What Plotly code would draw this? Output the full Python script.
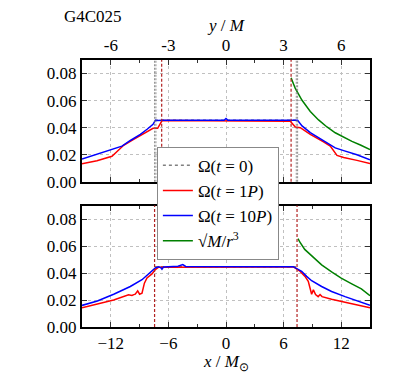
import plotly.graph_objects as go

# top panel, horizontal coordinate y/M
top_pos_red = [-7.5, -6.72, -5.94, -5.68, -5.33, -4.81, -4.29, -3.8, -3.56, -3.33,
               3.35, 3.61, 3.87, 4.39, 5.08, 5.43, 5.78, 6.13, 6.82, 7.5]
top_omega_red = [0.0133, 0.0155, 0.0188, 0.0225, 0.027, 0.0313, 0.0355, 0.0395, 0.0395, 0.0452,
                 0.0448, 0.0405, 0.040, 0.035, 0.0295, 0.0263, 0.0195, 0.018, 0.0158, 0.0135]

top_pos_blue = [-7.5, -6.72, -6.03, -5.42, -4.98, -4.46, -4.11, -3.8, -3.68, -3.55, -3.3,
                -0.1, 0.0, 0.1, 3.73, 3.96, 4.39, 5.08, 5.43, 5.69, 6.13, 6.82, 7.5]
top_omega_blue = [0.0168, 0.0205, 0.0238, 0.0263, 0.0305, 0.035, 0.0388, 0.0425, 0.0455, 0.0452, 0.0455,
                  0.0455, 0.0468, 0.0455, 0.0455, 0.0413, 0.0363, 0.0305, 0.0275, 0.025, 0.023, 0.020, 0.0163]

top_pos_init = [-3.7, 3.7]
top_omega_init = [0.0455, 0.0455]

top_pos_kep = [3.39, 3.61, 3.96, 4.39, 4.82, 5.26, 5.69, 6.13, 6.56, 7.0, 7.5]
top_omega_kep = [0.0768, 0.069, 0.0602, 0.052, 0.0457, 0.0405, 0.0362, 0.0327, 0.0298, 0.0272, 0.0238]

# bottom panel, horizontal coordinate x/M_sun
bot_pos_red = [-15.0, -13.4, -11.7, -10.15, -9.8, -9.6, -9.45, -9.2, -9.0, -8.75, -8.5, -8.23,
               -7.71, -7.36, -7.02, 7.0, 7.19, 7.7, 8.23, 8.57, 8.82, 8.92, 9.1, 9.33, 9.6,
               9.8, 10.0, 11.0, 12.4, 13.8, 15.0]
bot_omega_red = [0.0143, 0.0168, 0.020, 0.0238, 0.0233, 0.024, 0.0243, 0.0268, 0.0243, 0.025, 0.0325, 0.0363,
                 0.0393, 0.0425, 0.0443, 0.0445, 0.0438, 0.0413, 0.0375, 0.0338, 0.0263, 0.0243, 0.0275, 0.024, 0.0225,
                 0.024, 0.0225, 0.0205, 0.0183, 0.0163, 0.0143]

bot_pos_blue = [-15.0, -13.4, -11.7, -9.97, -8.75, -7.89, -7.36, -7.02, -6.8, -6.67, -6.5,
                -6.0, -5.0, -4.5, -4.2, 7.0, 7.88, 8.4, 8.92, 9.96, 11.0, 12.4, 13.8, 15.0]
bot_omega_blue = [0.016, 0.0193, 0.0243, 0.030, 0.035, 0.0408, 0.0438, 0.0446, 0.044, 0.0428, 0.0445,
                  0.0447, 0.045, 0.0463, 0.0449, 0.0447, 0.0413, 0.0375, 0.0343, 0.030, 0.0263, 0.0225, 0.0193, 0.0161]

bot_pos_init = [-7.4, 7.4]
bot_omega_init = [0.0447, 0.0447]

bot_pos_kep = [7.5, 7.7, 8.2, 8.92, 9.96, 11.0, 12.0, 13.1, 14.1, 15.0]
bot_omega_kep = [0.0655, 0.0628, 0.0575, 0.0525, 0.046, 0.0408, 0.0362, 0.032, 0.0282, 0.0232]

# vertical markers
top_surface = [-3.72, -3.65, 3.66, 3.73]
top_dashed = [-3.35, 3.39]
bot_dashed = [-7.44, 7.4]

labels = ["Ω(<i>t</i> = 0)", "Ω(<i>t</i> = 1<i>P</i>)", "Ω(<i>t</i> = 10<i>P</i>)",
          "√<i>M</i>/<i>r</i><sup>3</sup>"]

FONT = "Liberation Serif"
FS = 17
RED, BLUE, GREEN, GRAY = "#ff0000", "#0000ff", "#008000", "#808080"

fig = go.Figure()
panels = [
    ("x", "y", top_pos_init, top_omega_init, top_pos_red, top_omega_red,
     top_pos_blue, top_omega_blue, top_pos_kep, top_omega_kep, True),
    ("x2", "y2", bot_pos_init, bot_omega_init, bot_pos_red, bot_omega_red,
     bot_pos_blue, bot_omega_blue, bot_pos_kep, bot_omega_kep, False),
]
for xa, ya, xi, yi, xr, yr, xb, yb, xk, yk, show in panels:
    fig.add_trace(go.Scatter(x=xi, y=yi, mode="lines", name=labels[0], legendgroup="a",
                             showlegend=show, line=dict(color=GRAY, width=1.5, dash="dot"),
                             xaxis=xa, yaxis=ya))
    fig.add_trace(go.Scatter(x=xr, y=yr, mode="lines", name=labels[1], legendgroup="b",
                             showlegend=show, line=dict(color=RED, width=1.5),
                             xaxis=xa, yaxis=ya))
    fig.add_trace(go.Scatter(x=xb, y=yb, mode="lines", name=labels[2], legendgroup="c",
                             showlegend=show, line=dict(color=BLUE, width=1.5),
                             xaxis=xa, yaxis=ya))
    fig.add_trace(go.Scatter(x=xk, y=yk, mode="lines", name=labels[3], legendgroup="d",
                             showlegend=show, line=dict(color=GREEN, width=1.5),
                             xaxis=xa, yaxis=ya))

for v in top_surface:
    fig.add_shape(type="line", xref="x", yref="y domain", x0=v, x1=v, y0=0, y1=1,
                  line=dict(color="#707070", width=0.8, dash="2px,1.5px"), layer="above")
for v in top_dashed:
    fig.add_shape(type="line", xref="x", yref="y domain", x0=v, x1=v, y0=0, y1=1,
                  line=dict(color="#b22222", width=1.2, dash="3px,2px"), layer="above")
for v in bot_dashed:
    fig.add_shape(type="line", xref="x2", yref="y2 domain", x0=v, x1=v, y0=0, y1=1,
                  line=dict(color="#b22222", width=1.2, dash="3px,2px"), layer="above")

axis_style = dict(showline=True, linecolor="black", linewidth=2, mirror="allticks",
                  ticks="inside", ticklen=5, tickcolor="#333333", tickwidth=1,
                  showgrid=True, gridcolor="#c0c0c0", griddash="dot", gridwidth=1,
                  zeroline=False, tickfont=dict(family=FONT, size=FS, color="black"))

ytick_vals = [0.0, 0.02, 0.04, 0.06, 0.08]
ytick_text = ["0.00", "0.02", "0.04", "0.06", "0.08"]

# the page body adds 8px, so the figure is drawn 8px smaller than the window
fig.update_layout(
    template="none",
    width=403, height=369, autosize=False,
    margin=dict(l=74, r=41, t=52, b=50),
    paper_bgcolor="white", plot_bgcolor="white",
    font=dict(family=FONT, size=FS, color="black"),
    xaxis=dict(axis_style, domain=[0, 1], anchor="y", side="top", range=[-7.5, 7.5],
               tickmode="array", tickvals=[-6, -3, 0, 3, 6], ticktext=["-6", "-3", "0", "3", "6"],
               minor=dict(tickmode="array", tickvals=[-4.5, -1.5, 1.5, 4.5], ticks="inside",
                          ticklen=3, tickcolor="#333333", showgrid=False)),
    yaxis=dict(axis_style, domain=[0.544, 1], anchor="x", range=[0, 0.09],
               tickmode="array", tickvals=ytick_vals, ticktext=ytick_text),
    xaxis2=dict(axis_style, domain=[0, 1], anchor="y2", side="bottom", range=[-15, 15],
                tickmode="array", tickvals=[-12, -6, 0, 6, 12],
                ticktext=["\u221212", "\u22126", "0", "6", "12"],
                minor=dict(tickmode="array", tickvals=[-9, -3, 3, 9], ticks="inside",
                           ticklen=3, tickcolor="#333333", showgrid=False)),
    yaxis2=dict(axis_style, domain=[0, 0.455], anchor="x2", range=[0, 0.09],
                tickmode="array", tickvals=ytick_vals, ticktext=ytick_text),
    legend=dict(x=0.26, y=0.675, xanchor="left", yanchor="top", bgcolor="white",
                bordercolor="#888888", borderwidth=1, font=dict(family=FONT, size=FS),
                itemwidth=30, tracegroupgap=0),
    annotations=[
        dict(text="G4C025", xref="paper", yref="paper", x=-0.07, y=1.163,
             xanchor="left", yanchor="middle", showarrow=False, font=dict(family=FONT, size=FS)),
        dict(text="<i>y</i> / <i>M</i>", xref="paper", yref="paper", x=0.5, y=1.131,
             xanchor="center", yanchor="middle", showarrow=False, font=dict(family=FONT, size=FS)),
        dict(text="<i>x</i> / <i>M</i><sub>⊙</sub>", xref="paper", yref="paper", x=0.5, y=-0.135,
             xanchor="center", yanchor="middle", showarrow=False, font=dict(family=FONT, size=FS)),
    ],
)

fig.write_html("out.html")
